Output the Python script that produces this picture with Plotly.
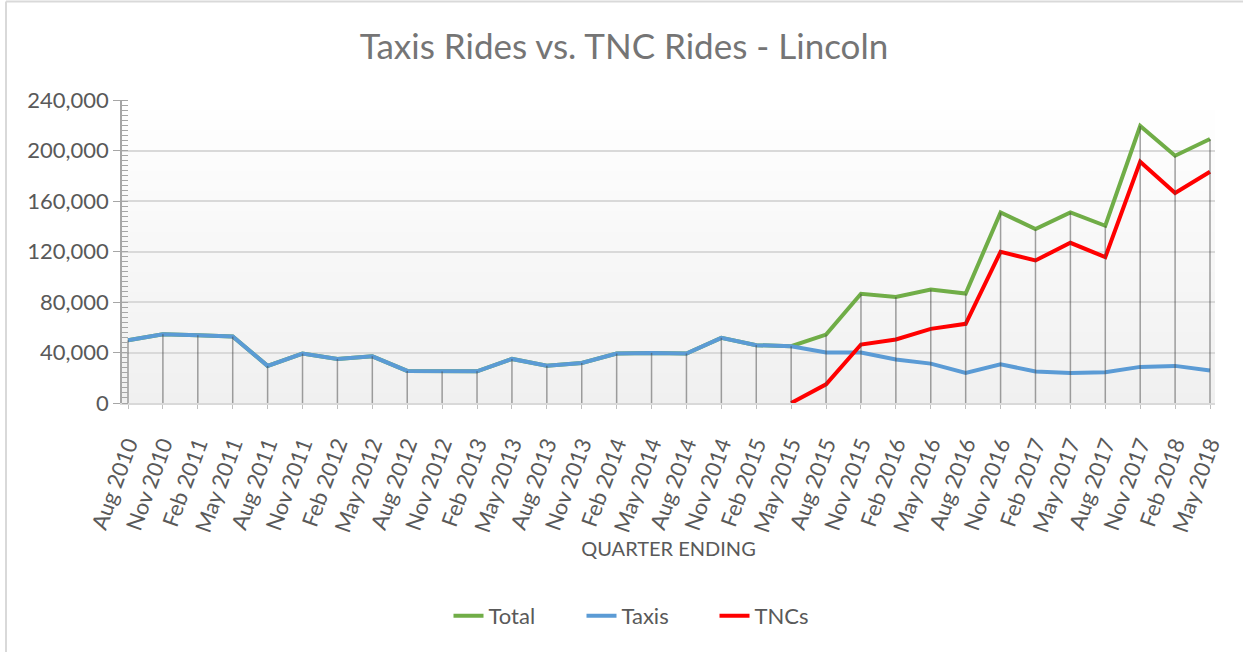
import plotly.graph_objects as go

quarters = ["Aug 2010", "Nov 2010", "Feb 2011", "May 2011", "Aug 2011", "Nov 2011",
            "Feb 2012", "May 2012", "Aug 2012", "Nov 2012", "Feb 2013", "May 2013",
            "Aug 2013", "Nov 2013", "Feb 2014", "May 2014", "Aug 2014", "Nov 2014",
            "Feb 2015", "May 2015", "Aug 2015", "Nov 2015", "Feb 2016", "May 2016",
            "Aug 2016", "Nov 2016", "Feb 2017", "May 2017", "Aug 2017", "Nov 2017",
            "Feb 2018", "May 2018"]

taxis = [49700, 54500, 53700, 52600, 29400, 39200, 34900, 37000, 25400, 24900,
         25100, 34900, 29600, 31700, 39200, 39700, 39200, 51600, 45800, 45000,
         40000, 40000, 34400, 31200, 23800, 30700, 24900, 23800, 24300, 28600,
         29400, 25700]

tncs = [None, None, None, None, None, None, None, None, None, None,
        None, None, None, None, None, None, None, None, None, 0,
        14800, 46300, 50300, 58700, 62700, 119800, 112900, 126900, 115500, 191100,
        166300, 183200]

total = [49700, 54500, 53700, 52600, 29400, 39200, 34900, 37000, 25400, 24900,
         25100, 34900, 29600, 31700, 39200, 39700, 39200, 51600, 45800, 45000,
         54200, 86500, 84000, 89900, 86700, 151000, 137700, 151000, 140400, 219400,
         195900, 209100]

y_ticks = [0, 40000, 80000, 120000, 160000, 200000, 240000]

FONT = "Lato"
TXT = "#595959"

fig = go.Figure()

fig.add_trace(go.Scatter(x=quarters, y=total, name="Total", mode="lines",
                         line=dict(color="#70AD47", width=4)))
fig.add_trace(go.Scatter(x=quarters, y=taxis, name="Taxis", mode="lines",
                         line=dict(color="#5B9BD5", width=4)))
fig.add_trace(go.Scatter(x=quarters, y=tncs, name="TNCs", mode="lines",
                         line=dict(color="#FF0000", width=4)))

# drop lines from the highest point of each category down to the axis
dx, dy = [], []
for q, a, b, c in zip(quarters, total, taxis, tncs):
    top = max(v for v in (a, b, c) if v is not None)
    dx += [q, q, None]
    dy += [top, 0, None]
fig.add_trace(go.Scatter(x=dx, y=dy, mode="lines", showlegend=False, hoverinfo="skip",
                         line=dict(color="rgba(70,70,70,0.5)", width=1.5)))

# vertical gradient background of the plot area (white at top -> light grey at bottom)
n = 60
for i in range(n):
    t = i / n
    g = 240 + 15 * (t + 0.5 / n)
    fig.add_shape(type="rect", xref="paper", yref="paper", x0=0, x1=1,
                  y0=t, y1=(i + 1) / n + 0.002, line=dict(width=0),
                  fillcolor=f"rgb({g:.1f},{g:.1f},{g:.1f})", layer="below")

# chart-area border (left and top edges visible)
L, R, T, B = 122, 28, 100, 249
W, H = 1243, 652
pw, ph = W - L - R, H - T - B
bx = (6 - L) / pw
by = (H - B - 1.5) / ph
fig.add_shape(type="line", xref="paper", yref="paper", x0=bx, x1=bx, y0=-2, y1=by,
              line=dict(color="#d9d9d9", width=2))
fig.add_shape(type="line", xref="paper", yref="paper", x0=bx, x1=2, y0=by, y1=by,
              line=dict(color="#d9d9d9", width=2))

fig.update_layout(
    width=W, height=H,
    margin=dict(l=L, r=R, t=T, b=B),
    paper_bgcolor="white", plot_bgcolor="rgba(0,0,0,0)",
    font=dict(family=FONT, color=TXT, size=22),
    title=dict(text="Taxis Rides vs. TNC Rides - Lincoln", xref="container", yref="container",
               x=624 / W, y=1 - 47 / H, xanchor="center", yanchor="middle",
               font=dict(family=FONT, size=35, color="#757575")),
    showlegend=True,
    legend=dict(orientation="h", xanchor="center", yanchor="middle",
                x=(648 - L) / pw, y=(H - B - 616) / ph,
                font=dict(family=FONT, size=22, color=TXT),
                traceorder="normal", entrywidth=88, entrywidthmode="pixels"),
    xaxis=dict(type="category", range=[-6 / 34.9, 31 + 5 / 34.9],
               showgrid=False, showline=True, linecolor="#d9d9d9", linewidth=1.5,
               ticks="outside", ticklen=4, tickcolor="#bfbfbf", tickangle=-70,
               ticklabelstandoff=14,
               tickfont=dict(family=FONT, size=22, color=TXT),
               title=dict(text="QUARTER ENDING", standoff=6,
                          font=dict(family=FONT, size=20, color=TXT))),
    yaxis=dict(range=[0, 240000], tickvals=y_ticks, tickformat=",",
               showgrid=True, gridcolor="#d9d9d9", gridwidth=1.5,
               showline=True, linecolor="#a6a6a6", linewidth=1.5,
               ticks="outside", ticklen=7, tickcolor="#a6a6a6",
               zeroline=False,
               minor=dict(dtick=4000, ticks="inside", ticklen=6, tickcolor="#a6a6a6",
                          showgrid=False),
               tickfont=dict(family=FONT, size=22, color=TXT)),
)

fig.write_html("out.html", config={"displayModeBar": False},
               post_script="document.body.style.margin='0';")
